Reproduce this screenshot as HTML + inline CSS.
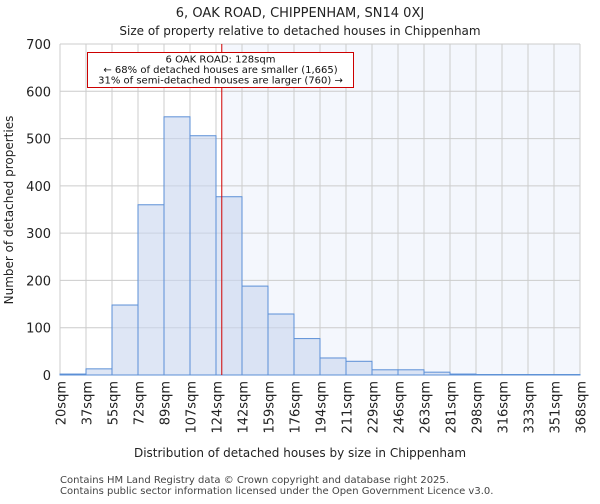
<!DOCTYPE html>
<html><head><meta charset="utf-8"><style>
body{margin:0;background:#fff;font-family:"DejaVu Sans","Liberation Sans",sans-serif;}
</style></head><body>
<svg width="600" height="500" xmlns="http://www.w3.org/2000/svg" font-family="DejaVu Sans, Liberation Sans, sans-serif">
<text x="300" y="17" text-anchor="middle" font-size="13" fill="#222">6, OAK ROAD, CHIPPENHAM, SN14 0XJ</text>
<text x="300" y="35" text-anchor="middle" font-size="12" fill="#222">Size of property relative to detached houses in Chippenham</text>
<g id="plot"></g>
<text x="300" y="457" text-anchor="middle" font-size="12" fill="#222">Distribution of detached houses by size in Chippenham</text>
<text transform="translate(13,210) rotate(-90)" text-anchor="middle" font-size="12" fill="#222">Number of detached properties</text>
<text x="60" y="483" font-size="10" fill="#444">Contains HM Land Registry data © Crown copyright and database right 2025.</text>
<text x="60" y="494" font-size="10" fill="#444">Contains public sector information licensed under the Open Government Licence v3.0.</text>
</svg>
<script>
const binLabels=["20sqm","37sqm","55sqm","72sqm","89sqm","107sqm","124sqm","142sqm","159sqm","176sqm","194sqm","211sqm","229sqm","246sqm","263sqm","281sqm","298sqm","316sqm","333sqm","351sqm","368sqm"];
const binEdges=[20,37,55,72,89,107,124,142,159,176,194,211,229,246,263,281,298,316,333,351,368];
const counts=[2,13,148,360,546,506,377,188,129,77,36,29,11,11,6,2,1,1,1,1];
const yTicks=[0,100,200,300,400,500,600,700];
const propertySize=128;
const X0=60,X1=580,Y0=375,Y1=44,YMAX=700;
const ns="http://www.w3.org/2000/svg";
const g=document.getElementById('plot');
const n=counts.length;
function xi(i){return X0+(X1-X0)*i/n;}
function xv(v){let i=0;while(i<binEdges.length-2&&v>binEdges[i+1])i++;return xi(i)+(v-binEdges[i])/(binEdges[i+1]-binEdges[i])*(X1-X0)/n;}
function y(v){return Y0-(Y0-Y1)*v/YMAX;}
function mk(t,a){const e=document.createElementNS(ns,t);for(const k in a)e.setAttribute(k,a[k]);g.appendChild(e);return e;}
const px=xv(propertySize);
let e=mk('rect',{x:px,y:Y1,width:X1-px,height:Y0-Y1,fill:'#f4f7fd'});


for(let i=0;i<=n;i++){e=mk('line',{x1:xi(i),x2:xi(i),y1:Y1,y2:Y0,stroke:'#ccc','stroke-width':1});

}
yTicks.forEach(t=>{e=mk('line',{x1:X0,x2:X1,y1:y(t),y2:y(t),stroke:'#ccc','stroke-width':1});


e=mk('text',{x:X0-9,y:y(t)+5,'text-anchor':'end','font-size':13,fill:'#222'});e.textContent=t;

});
counts.forEach((c,i)=>{e=mk('rect',{x:xi(i),y:y(c),width:(X1-X0)/n,height:Y0-y(c),fill:'rgba(200,214,238,0.6)',stroke:'#5b8fd6','stroke-width':1});

});
binLabels.forEach((l,i)=>{e=mk('text',{transform:`translate(${xi(i)+5.5},381) rotate(-90)`,'text-anchor':'end','font-size':13,fill:'#222'});e.textContent=l;

});
e=mk('line',{x1:px,x2:px,y1:Y1,y2:Y0,stroke:'#d00000','stroke-width':1});


e=mk('rect',{x:87.5,y:52.5,width:266,height:35,fill:'#fff',stroke:'#cc0000','stroke-width':1});


["6 OAK ROAD: 128sqm","← 68% of detached houses are smaller (1,665)","31% of semi-detached houses are larger (760) →"].forEach((t,i)=>{
e=mk('text',{x:220.5,y:62.5+i*10.5,'text-anchor':'middle','font-size':10,fill:'#111'});e.textContent=t;

});
</script>
</body></html>
